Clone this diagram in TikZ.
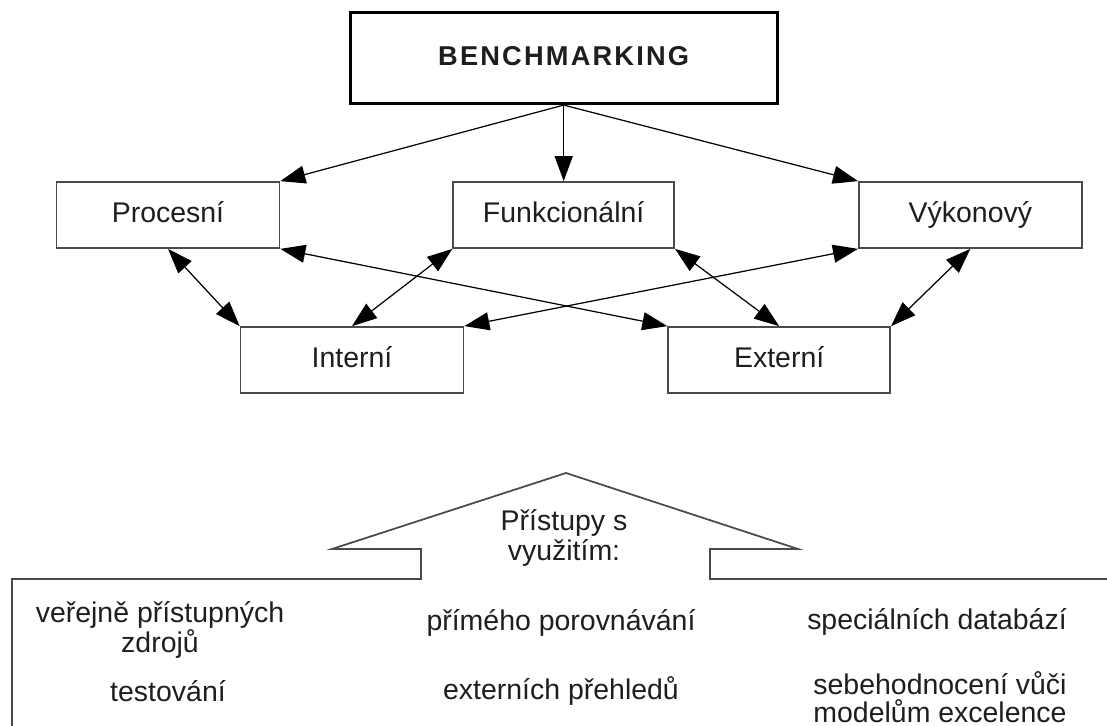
\documentclass[tikz,border=0pt]{standalone}
\usepackage{fontspec}
\setmainfont{Liberation Sans}
\usepackage{tikz}
\usetikzlibrary{arrows.meta,positioning}
\usepackage{xcolor}
\definecolor{linegray}{HTML}{4A4A4A}
\definecolor{txtgray}{HTML}{1E1E1E}

\begin{document}
\begin{tikzpicture}[
            x = 0.02cm, y = -0.02cm, % pixel grid
            > = {Triangle[length=0.5cm, width=0.36cm]}, % arrow head style
            line width = 0.7pt,% line style
            every node/.style={text=txtgray, font=\fontsize{16.2}{15}\selectfont}
        ]

        \tikzstyle{box}=[
            draw = linegray,
            line width = 1pt,
            fill = white,
            minimum width = 4.46cm,
            minimum height = 1.32cm,
            text height = 11.8pt,
            text depth = 3.4pt,
            inner sep = 0pt
        ]
        \tikzstyle{txt}=[align=center, inner sep=0pt]

        \useasboundingbox (0,0) rectangle (1107,726);

        % Tipi
        \node[box] (proc) at (168,215) {Procesní};
        \node[box, minimum width=4.42cm] (funk) [right=3.44cm of proc] {Funkcionální};
        \node[box] (vyk) [right=3.66cm of funk] {Výkonový};

        % Nodo principale
        \node[box, line width=1.8pt, draw=black, minimum width=8.54cm, minimum height=1.82cm,
              font=\fontsize{15.5}{18}\selectfont\bfseries\addfontfeature{LetterSpace=8}]
              (bench) at (funk.center |- 0,58) {BENCHMARKING};

        % Druhy
        \node[box] (int) at (352,360) {Interní};
        \node[box, minimum width=4.44cm] (ext) [right=4.06cm of int] {Externí};

        \path[->]   (bench.south) edge (proc.north east);
        \path[->]   (bench.south) edge (funk.north);
        \path[->]   (bench.south) edge (vyk.north west);

        \path[<->]  (proc.south) edge (int.north west);
        \path[<->]  (funk.south west) edge (int.north);
        \path[<->]  (vyk.south west) edge (int.north east);
        \path[<->]  (proc.south east) edge (ext.north west);
        \path[<->]  (funk.south east) edge (ext.north);
        \path[<->]  (vyk.south) edge (ext.north east);

        % Sipka nahoru
        \draw[linegray, line width=1pt] (1107,579) -- (710,579) -- (710,549) -- (798,549)
            -- (566,473) -- (332,549) -- (421,549) -- (421,579) -- (12,579) -- (12,726);
        \node[txt, font=\fontsize{16.2}{17.5}\selectfont] (pristupy) at (564,538) {Přístupy s\\využitím:};

        % Pristupy
        \node[txt] (verejne)  at (160,630) {veřejně přístupných\\zdrojů};
        \node[txt] (test)     at (168,691) {testování};
        \node[txt] (prime)    at (561,623) {přímého porovnávání};
        \node[txt] (prehledy) at (561,691) {externích přehledů};
        \node[txt] (databaze) at (937,622) {speciálních databází};
        \node[txt, font=\fontsize{16.2}{16}\selectfont] (sebe) at (940,697) {sebehodnocení vůči\\modelům excelence};

\end{tikzpicture}
\end{document}
